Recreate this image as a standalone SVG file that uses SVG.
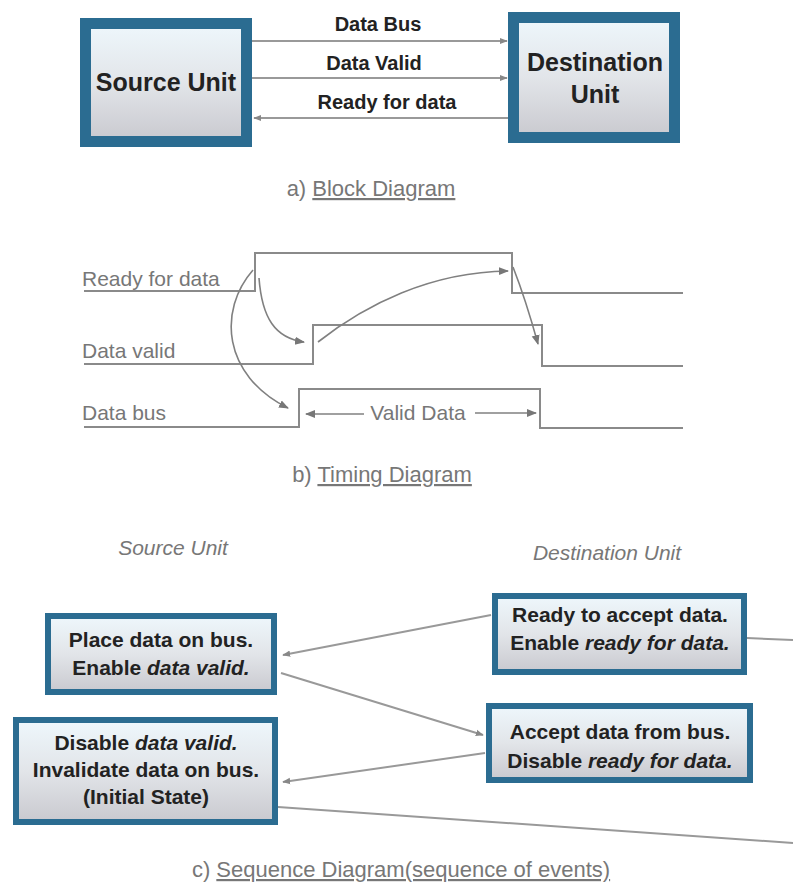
<svg xmlns="http://www.w3.org/2000/svg" width="793" height="884" viewBox="0 0 793 884">
<defs>
<linearGradient id="boxfill" x1="0" y1="0" x2="0" y2="1">
<stop offset="0" stop-color="#eef7fc"/>
<stop offset="0.5" stop-color="#e2e5e9"/>
<stop offset="1" stop-color="#c9c9cf"/>
</linearGradient>
<marker id="arr" viewBox="0 0 10 10" refX="9" refY="5" markerWidth="8" markerHeight="8" markerUnits="userSpaceOnUse" orient="auto">
<path d="M0,1 L10,5 L0,9 z" fill="#888"/>
</marker>
<marker id="arrw" viewBox="0 0 10 10" refX="9" refY="5" markerWidth="10" markerHeight="10" markerUnits="userSpaceOnUse" orient="auto">
<path d="M0,1 L10,5 L0,9 z" fill="#777"/>
</marker>
</defs>
<style>
.bigbox{fill:url(#boxfill);stroke:#2b6c91;stroke-width:11}
.seqbox{fill:url(#boxfill);stroke:#2b6c91;stroke-width:6}
.bold{font-family:"Liberation Sans",Arial,sans-serif;font-weight:bold;fill:#222;text-anchor:middle}
.lbl{font-family:"Liberation Sans",Arial,sans-serif;fill:#777}
.cap{font-family:"Liberation Sans",Arial,sans-serif;fill:#777;font-size:22px;text-anchor:middle}
.wave{fill:none;stroke:#8a8a8a;stroke-width:2}
.conn{fill:none;stroke:#999;stroke-width:2}
.tconn{fill:none;stroke:#808080;stroke-width:1.6}
</style>
<rect width="793" height="884" fill="#fff"/>

<!-- a) Block diagram -->
<g id="source-unit">
<rect class="bigbox" x="85.5" y="23.5" width="161" height="118"/>
<text class="bold" x="166" y="91" font-size="25">Source Unit</text>
</g>
<g id="destination-unit">
<rect class="bigbox" x="513.5" y="17.5" width="161" height="120"/>
<text class="bold" x="595" y="71" font-size="25">Destination</text>
<text class="bold" x="595" y="103" font-size="25">Unit</text>
</g>
<g id="block-connectors">
<line class="conn" x1="252" y1="41" x2="507" y2="41" marker-end="url(#arr)"/>
<line class="conn" x1="252" y1="78" x2="507" y2="78" marker-end="url(#arr)"/>
<line class="conn" x1="508" y1="118" x2="254" y2="118" marker-end="url(#arr)"/>
<text class="bold" x="378" y="31" font-size="20">Data Bus</text>
<text class="bold" x="374" y="70" font-size="20">Data Valid</text>
<text class="bold" x="387" y="109" font-size="20">Ready for data</text>
</g>
<text class="cap" x="371" y="196">a) <tspan text-decoration="underline">Block Diagram</tspan></text>

<!-- b) Timing diagram -->
<g id="timing">
<text class="lbl" x="82" y="286" font-size="21">Ready for data</text>
<text class="lbl" x="82" y="358" font-size="21">Data valid</text>
<text class="lbl" x="82" y="420" font-size="21">Data bus</text>
<polyline class="wave" points="84,291 255,291 255,253 512,253 512,293 683,293"/>
<polyline class="wave" points="84,364 313,364 313,325 542,325 542,366 683,366"/>
<polyline class="wave" points="84,427 299,427 299,389 540,389 540,428 683,428"/>
<text class="lbl" x="418" y="420" font-size="21" text-anchor="middle">Valid Data</text>
<line class="tconn" x1="364" y1="414" x2="306" y2="414" marker-end="url(#arrw)"/>
<line class="tconn" x1="475" y1="413" x2="536" y2="413" marker-end="url(#arrw)"/>
<path class="tconn" d="M259,278 C262,318 275,338 304,342" marker-end="url(#arrw)"/>
<path class="tconn" d="M253,270 C218,310 222,375 288,408" marker-end="url(#arrw)"/>
<path class="tconn" d="M318,342 C365,305 430,272 508,271" marker-end="url(#arrw)"/>
<path class="tconn" d="M513,267 C522,290 530,315 538,344" marker-end="url(#arrw)"/>
</g>
<text class="cap" x="382" y="482">b) <tspan text-decoration="underline">Timing Diagram</tspan></text>

<!-- c) Sequence diagram -->
<text class="lbl" x="173" y="555" font-size="21" font-style="italic" text-anchor="middle">Source Unit</text>
<text class="lbl" x="607" y="560" font-size="21" font-style="italic" text-anchor="middle">Destination Unit</text>

<g id="place-data">
<rect class="seqbox" x="48" y="616" width="226" height="76"/>
<text class="bold" x="161" y="647" font-size="21">Place data on bus.</text>
<text class="bold" x="161" y="675" font-size="21">Enable <tspan font-style="italic">data valid.</tspan></text>
</g>
<g id="disable-valid">
<rect class="seqbox" x="16" y="720" width="259" height="102"/>
<text class="bold" x="146" y="750" font-size="21">Disable <tspan font-style="italic">data valid.</tspan></text>
<text class="bold" x="146" y="777" font-size="21">Invalidate data on bus.</text>
<text class="bold" x="146" y="804" font-size="21">(Initial State)</text>
</g>
<g id="ready-accept">
<rect class="seqbox" x="495" y="596" width="249" height="76"/>
<text class="bold" x="620" y="622" font-size="21">Ready to accept data.</text>
<text class="bold" x="620" y="650" font-size="21">Enable <tspan font-style="italic">ready for data.</tspan></text>
</g>
<g id="accept-data">
<rect class="seqbox" x="489" y="706" width="261" height="74"/>
<text class="bold" x="620" y="739" font-size="21">Accept data from bus.</text>
<text class="bold" x="620" y="768" font-size="21">Disable <tspan font-style="italic">ready for data.</tspan></text>
</g>
<g id="sequence-connectors">
<line class="conn" x1="491" y1="615" x2="283" y2="655" marker-end="url(#arr)"/>
<line class="conn" x1="281" y1="673" x2="483" y2="735" marker-end="url(#arr)"/>
<line class="conn" x1="485" y1="753" x2="283" y2="782" marker-end="url(#arr)"/>
<line class="conn" x1="278" y1="807" x2="793" y2="843"/>
<line class="conn" x1="747" y1="638" x2="793" y2="640"/>
</g>
<text class="cap" x="401" y="877">c) <tspan text-decoration="underline">Sequence Diagram(sequence of events)</tspan></text>
</svg>
